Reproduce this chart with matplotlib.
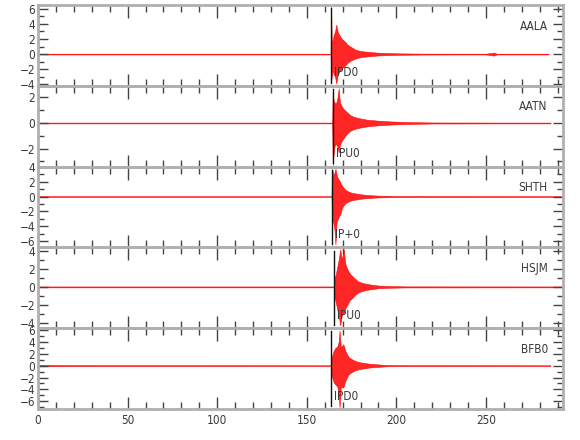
import matplotlib
matplotlib.use("Agg")
import matplotlib.pyplot as plt
from matplotlib.ticker import MultipleLocator

# ---------------- data (envelopes) ----------------
stations = ["AALA", "AATN", "SHTH", "HSJM", "BFB0"]
pick_labels = ["IPD0", "IPU0", "IP+0", "IPU0", "IPD0"]
pick_times = [163.5, 164.4, 163.9, 165.0, 163.3]

aala_t = [0, 163.3, 163.6, 163.9, 164.3, 165.0, 165.8, 166.5, 167.2, 168.0, 169.0, 170.0,
          171.5, 173.0, 175.0, 177.0, 180.0, 184.0, 190.0, 200.0, 215, 250, 253, 254.5, 256, 285]
aala_hi = [0.05, 0.05, 6.3, 2.0, 1.5, 2.5, 3.0, 3.9, 3.0, 2.6, 2.2, 1.9,
           1.6, 1.2, 0.9, 0.6, 0.4, 0.3, 0.18, 0.1, 0.06, 0.05, 0.15, 0.2, 0.05, 0.05]
aala_lo = [-0.05, -0.05, -3.6, -3.0, -2.2, -2.6, -3.0, -3.9, -2.8, -2.4, -2.0, -1.8,
           -1.5, -1.1, -0.8, -0.6, -0.4, -0.3, -0.18, -0.1, -0.06, -0.05, -0.15, -0.2, -0.05, -0.05]

aatn_t = [0, 164.2, 164.5, 164.9, 165.5, 166.3, 167.2, 167.8, 168.5, 169.5, 170.5, 172,
          173.5, 175, 177, 180, 184, 190, 197, 205, 220, 286]
aatn_hi = [0.03, 0.03, 2.5, 1.8, 1.6, 1.5, 2.0, 2.7, 1.6, 1.3, 1.1, 0.9,
           0.7, 0.55, 0.45, 0.35, 0.25, 0.18, 0.12, 0.08, 0.04, 0.03]
aatn_lo = [-0.03, -0.03, -3.3, -2.5, -1.8, -1.6, -1.9, -2.3, -1.7, -1.4, -1.2, -0.9,
           -0.7, -0.55, -0.45, -0.35, -0.25, -0.18, -0.12, -0.08, -0.04, -0.03]

shth_t = [0, 163.8, 164.2, 164.8, 165.5, 166.0, 166.6, 167.2, 168.0, 168.7, 169.5, 170.5,
          171.5, 173, 175, 177.5, 180, 184, 190, 200, 292]
shth_hi = [0.05, 0.05, 3.7, 2.8, 3.2, 3.7, 3.0, 2.5, 2.2, 1.9, 1.5, 1.2,
           0.9, 0.7, 0.5, 0.4, 0.3, 0.2, 0.12, 0.07, 0.05]
shth_lo = [-0.05, -0.05, -3.0, -3.5, -4.5, -6.4, -3.5, -3.1, -2.6, -2.4, -1.6, -1.2,
           -0.9, -0.7, -0.5, -0.4, -0.3, -0.2, -0.12, -0.07, -0.05]

hsjm_t = [0, 165.2, 165.6, 166.3, 167.0, 167.8, 168.7, 169.5, 170.6, 171.5, 172.6, 174,
          175.4, 177, 178.8, 181, 183, 186, 190, 195, 205, 292]
hsjm_hi = [0.05, 0.05, 1.0, 1.5, 2.2, 3.0, 4.2, 3.0, 4.2, 2.6, 2.0, 1.5,
           1.2, 0.9, 0.6, 0.45, 0.35, 0.25, 0.15, 0.1, 0.06, 0.05]
hsjm_lo = [-0.05, -0.05, -1.2, -1.8, -2.5, -3.2, -4.3, -3.2, -2.9, -2.4, -2.0, -1.5,
           -1.2, -0.9, -0.6, -0.45, -0.35, -0.25, -0.15, -0.1, -0.06, -0.05]

bfb0_t = [0, 20, 163.5, 164.0, 165.0, 166.0, 167.0, 167.8, 168.3, 169.0, 170.4, 171.5,
          173.2, 175, 177, 179, 181, 185.5, 190, 194, 200, 286]
bfb0_hi = [0.12, 0.08, 0.06, 1.5, 2.5, 3.0, 3.2, 4.0, 5.9, 3.0, 3.6, 2.5,
           1.5, 1.1, 0.8, 0.6, 0.5, 0.3, 0.2, 0.12, 0.08, 0.06]
bfb0_lo = [-0.12, -0.08, -0.06, -1.8, -2.8, -3.2, -3.5, -4.5, -7.1, -3.5, -3.7, -2.6,
           -1.5, -1.1, -0.8, -0.6, -0.5, -0.3, -0.2, -0.12, -0.08, -0.06]

ylims = [(-4.2, 6.5), (-3.4, 2.9), (-6.8, 4.0), (-4.6, 4.4), (-7.3, 6.3)]
x_max = 293

traces = [(aala_t, aala_hi, aala_lo), (aatn_t, aatn_hi, aatn_lo), (shth_t, shth_hi, shth_lo),
          (hsjm_t, hsjm_hi, hsjm_lo), (bfb0_t, bfb0_hi, bfb0_lo)]

plt.rcParams["font.family"] = ["DejaVu Sans"]
plt.rcParams["font.stretch"] = "condensed"

txt_col = "#3a3a3a"
spine_col = "#b0b0b0"
fs = 8.5

fig = plt.figure(figsize=(5.8, 4.4), dpi=100)
left, right = 38 / 580, 563 / 580
top_px, bot_px = 5, 409
h = (bot_px - top_px) / 5 / 440

for i in range(5):
    y0 = 1 - (top_px + (i + 1) * (bot_px - top_px) / 5) / 440
    ax = fig.add_axes([left, y0, right - left, h])
    t, hi, lo = traces[i]
    ax.fill_between(t, lo, hi, color="#ff1a1a", lw=0.4, edgecolor="#ff0000", alpha=0.95)
    ax.set_xlim(0, x_max)
    ax.set_ylim(*ylims[i])
    ax.axvline(pick_times[i], ymin=0.04, ymax=0.96, color="#111111", lw=1.0)
    ax.text(pick_times[i] + 1.8, 0.16, pick_labels[i], transform=ax.get_xaxis_transform(),
            ha="left", va="center", fontsize=fs, color=txt_col)
    ax.text(0.971, 0.74, stations[i], transform=ax.transAxes, ha="right", va="center",
            fontsize=fs, color=txt_col)
    for s in ax.spines.values():
        s.set_color(spine_col)
        s.set_linewidth(2.0)
    ax.xaxis.set_major_locator(MultipleLocator(50))
    ax.xaxis.set_minor_locator(MultipleLocator(10))
    ax.yaxis.set_minor_locator(MultipleLocator(1))
    ax.tick_params(axis="both", which="both", direction="in", top=True, right=True,
                   colors="#444444", labelcolor=txt_col, labelsize=fs)
    ax.tick_params(axis="x", which="major", length=9, width=1.0)
    ax.tick_params(axis="x", which="minor", length=5, width=1.0)
    ax.tick_params(axis="y", which="major", length=7, width=1.0, pad=2)
    ax.tick_params(axis="y", which="minor", length=4, width=1.0)
    ax.set_yticks([v for v in range(-8, 9, 2) if ylims[i][0] <= v <= ylims[i][1]])
    if i < 4:
        ax.tick_params(axis="x", labelbottom=False)
    ax.patch.set_alpha(0)

fig.savefig("out.png", dpi=100)
